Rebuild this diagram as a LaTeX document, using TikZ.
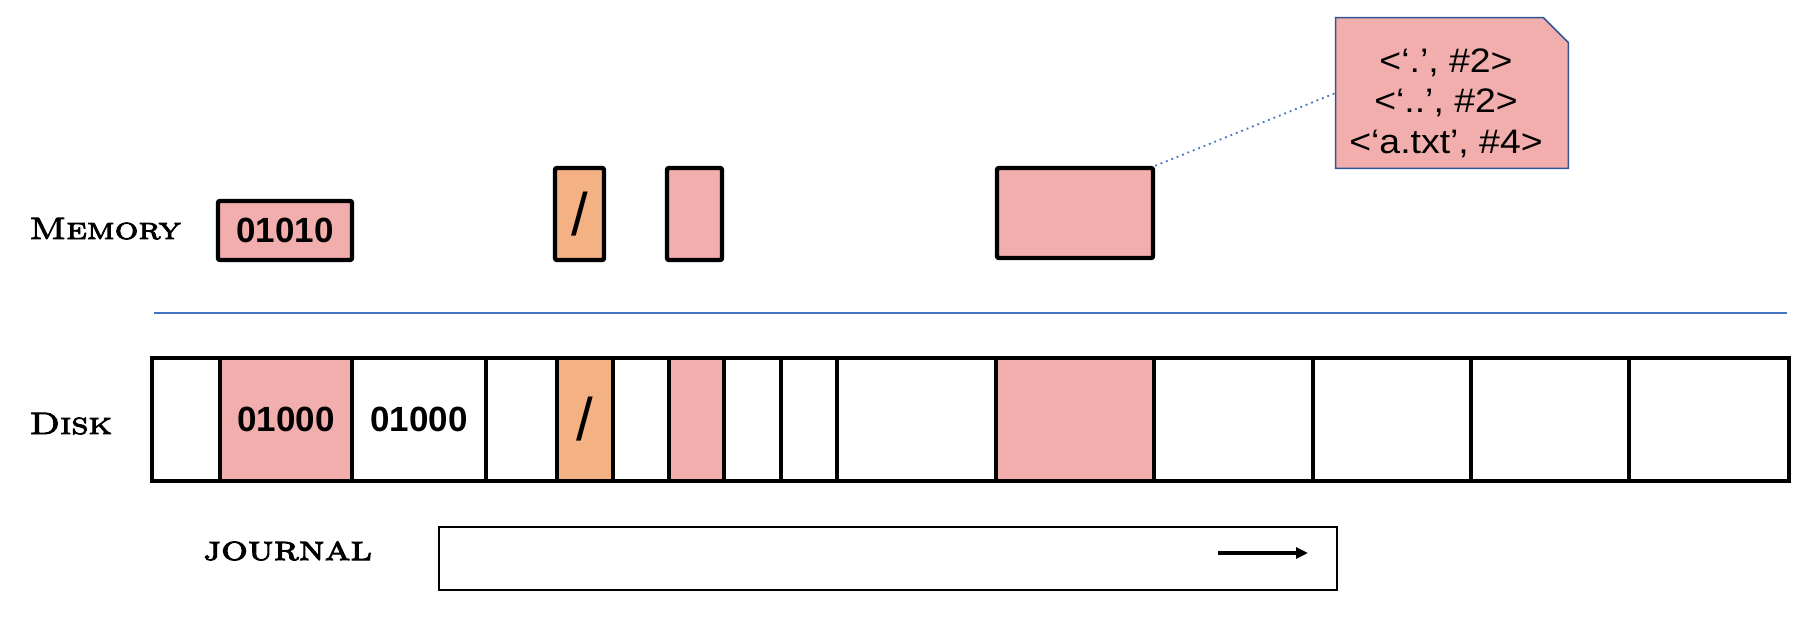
\documentclass[tikz,border=0pt]{standalone}
\usepackage{fontspec}
\setmainfont{Liberation Sans}
\newfontfamily\capsfont{lmromancaps10-regular.otf}[FakeBold=3,FakeStretch=1.2]
\newfontfamily\notefont{Liberation Sans}[FakeStretch=1.1]
\usetikzlibrary{arrows.meta}
\definecolor{pinkf}{RGB}{242,174,173}
\definecolor{orangef}{RGB}{244,177,131}
\definecolor{lineblue}{RGB}{68,114,196}
\definecolor{noteblue}{RGB}{47,85,151}
\tikzset{
  cell/.style={draw, line width=2.2pt, inner sep=0pt, minimum height=61.5pt},
  membox/.style={draw, line width=2.2pt, inner sep=0pt, rounded corners=1pt},
  digits/.style={font=\bfseries\fontsize{17.5}{20}\selectfont},
  slash/.style={font=\fontsize{30}{32}\selectfont},
  rowlabel/.style={anchor=base west, inner sep=0pt, font=\capsfont\fontsize{15.5}{18}\selectfont},
  sepline/.style={draw=lineblue, line width=1.2pt},
  notearea/.style={minimum width=116pt, minimum height=75pt, inner sep=0pt},
  noteshape/.style={fill=pinkf, draw=noteblue, line width=0.8pt},
  noteline/.style={anchor=base, inner sep=0pt, font=\notefont\fontsize{17}{20}\selectfont},
  link/.style={draw=lineblue, dotted, line width=0.9pt},
  journalbox/.style={draw, line width=1.3pt, inner sep=0pt, minimum width=449pt, minimum height=31.5pt},
  jarrow/.style={line width=1.6pt, -{Triangle[length=6pt,width=5.5pt]}}
}
\begin{document}
\begin{tikzpicture}[x=0.5pt,y=-0.5pt]
\useasboundingbox (0,0) rectangle (1812,633);
% labels
\node[rowlabel] (lmem) at (29,239) {Memory};
\node[rowlabel] (ldisk) at (29,434) {Disk};
\node[rowlabel, font=\capsfont\fontsize{17.5}{20}\selectfont] (ljournal) at (203,560) {journal};
% memory
\node[membox, fill=pinkf, digits, minimum width=67pt, minimum height=29.5pt] (m1) at (285,230.5) {01010};
\node[membox, fill=orangef, slash, minimum width=24.5pt, minimum height=46pt] (m2) at (579.5,214) {/};
\node[membox, fill=pinkf, minimum width=27.5pt, minimum height=46pt] (m3) at (694.5,214) {};
\node[membox, fill=pinkf, minimum width=78pt, minimum height=45pt] (m4) at (1075,213) {};
% separator
\coordinate (sepL) at (154,313);
\coordinate (sepR) at (1787,313);
\draw[sepline] (sepL) -- (sepR);
% disk cells
\node[cell, minimum width=34pt] (d1) at (186,419.5) {};
\node[cell, fill=pinkf, digits, minimum width=66pt] (d2) at (286,419.5) {01000};
\node[cell, digits, minimum width=67pt] (d3) at (419,419.5) {01000};
\node[cell, minimum width=35.5pt] (d4) at (521.5,419.5) {};
\node[cell, fill=orangef, slash, minimum width=28pt] (d5) at (585,419.5) {/};
\node[cell, minimum width=28pt] (d6) at (641,419.5) {};
\node[cell, fill=pinkf, minimum width=27.5pt] (d7) at (696.5,419.5) {};
\node[cell, minimum width=28.5pt] (d8) at (752.5,419.5) {};
\node[cell, minimum width=28pt] (d9) at (809,419.5) {};
\node[cell, minimum width=79.5pt] (d10) at (916.5,419.5) {};
\node[cell, fill=pinkf, minimum width=79pt] (d11) at (1075,419.5) {};
\node[cell, minimum width=79.5pt] (d12) at (1233.5,419.5) {};
\node[cell, minimum width=79pt] (d13) at (1392,419.5) {};
\node[cell, minimum width=79pt] (d14) at (1550,419.5) {};
\node[cell, minimum width=80pt] (d15) at (1709,419.5) {};
% note
\node[notearea] (note) at (1452,93) {};
\path[noteshape] (note.south west) -- (note.north west) -- ([xshift=-12.5pt]note.north east)
   -- ([yshift=-12.5pt]note.north east) -- (note.south east) -- cycle;
\node[noteline] (n1) at (1446,72) {<‘.’, \#2>};
\node[noteline] (n2) at (1446,112) {<‘..’, \#2>};
\node[noteline] (n3) at (1446,153) {<‘a.txt’, \#4>};
\draw[link] (m4.north east) -- (note.west);
% journal
\node[journalbox] (jbox) at (888,558.5) {};
\coordinate (ja) at (1218,553);
\coordinate (jb) at (1308,553);
\draw[jarrow] (ja) -- (jb);
\end{tikzpicture}
\end{document}
